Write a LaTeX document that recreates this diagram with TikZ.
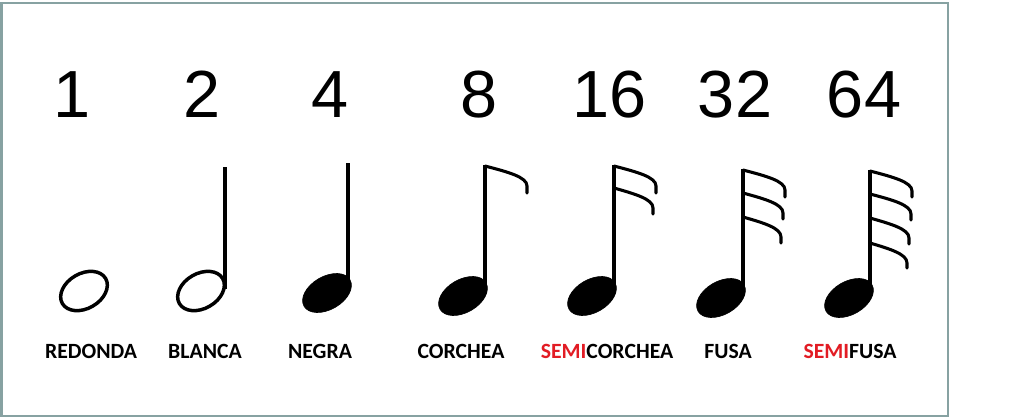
\documentclass[tikz,border=0pt]{standalone}
\usepackage{fontspec}
\setmainfont{Liberation Sans}
\newfontfamily\lblfont{Carlito}
\usepackage{tikz}

\definecolor{framecol}{RGB}{135,162,162}
\definecolor{semired}{RGB}{226,28,36}

\begin{document}
\begin{tikzpicture}[x=0.75pt,y=0.75pt,yscale=-1,xscale=1,
	openhead/.style={line width=2.6pt},
	fullhead/.style={fill=black,draw=black,line width=0.5pt},
	notestem/.style={line width=3pt},
	flagline/.style={line width=2.3pt,line cap=round},
	valnum/.style={anchor=base,inner sep=0.75pt,font=\fontsize{50}{60}\selectfont},
	notename/.style={anchor=base,inner sep=0.75pt,font=\lblfont\bfseries\fontsize{16.3}{19}\selectfont}]
			\useasboundingbox (0,0) rectangle (1024,418);
			
			%Shape: Rectangle
			\draw [draw=framecol, line width=1.5pt] (1.5,2.5) rectangle (947.5,415.5) ;
			
			%Shape: Ellipse (redonda)
			\draw [openhead, rotate around={-30:(84,291)}] (84,291) ellipse [x radius=25, y radius=17.5] ;
			%Shape: Ellipse (blanca)
			\draw [openhead, rotate around={-30:(201,291)}] (201,291) ellipse [x radius=25, y radius=17.5] ;
			%Shape: Ellipse (negra)
			\draw [fullhead, rotate around={-30:(327,293)}] (327,293) ellipse [x radius=26.5, y radius=16.5] ;
			%Shape: Ellipse (corchea)
			\draw [fullhead, rotate around={-30:(463,296)}] (463,296) ellipse [x radius=26.5, y radius=16.5] ;
			%Shape: Ellipse (semicorchea)
			\draw [fullhead, rotate around={-30:(592,296)}] (592,296) ellipse [x radius=26.5, y radius=16.5] ;
			%Shape: Ellipse (fusa)
			\draw [fullhead, rotate around={-30:(721,298)}] (721,298) ellipse [x radius=26.5, y radius=16.5] ;
			%Shape: Ellipse (semifusa)
			\draw [fullhead, rotate around={-30:(849,298)}] (849,298) ellipse [x radius=26.5, y radius=16.5] ;
			
			%Straight Lines
			\draw [notestem] (225,289) -- (225,167) ;
			%Straight Lines
			\draw [notestem] (348,290) -- (348,163) ;
			%Straight Lines
			\draw [notestem] (485,293) -- (485,165) ;
			%Straight Lines
			\draw [notestem] (614,293) -- (614,165) ;
			%Straight Lines
			\draw [notestem] (743,295) -- (743,169) ;
			%Straight Lines
			\draw [notestem] (870,295) -- (870,170) ;
			
			%Curve Lines (corchea)
			\draw [flagline] (485,166) .. controls (508,172) and (527,177) .. (527,186) -- (527,193) ;
			%Curve Lines (semicorchea)
			\draw [flagline] (614,166) .. controls (637,172) and (656,177) .. (656,186) -- (656,193) ;
			\draw [flagline] (614,188) .. controls (635,194) and (653,199) .. (653,208) -- (653,214) ;
			%Curve Lines (fusa)
			\draw [flagline] (743,170) .. controls (766,176) and (785,181) .. (785,190) -- (785,197) ;
			\draw [flagline] (743,193) .. controls (765,199) and (783,204) .. (783,213) -- (783,219) ;
			\draw [flagline] (743,217) .. controls (764,223) and (781,228) .. (781,237) -- (781,243) ;
			%Curve Lines (semifusa)
			\draw [flagline] (870,171) .. controls (893,177) and (912,182) .. (912,191) -- (912,197) ;
			\draw [flagline] (870,194) .. controls (893,200) and (911,205) .. (911,214) -- (911,220) ;
			\draw [flagline] (870,218) .. controls (891,224) and (909,229) .. (909,238) -- (909,244) ;
			\draw [flagline] (870,243) .. controls (890,249) and (907,254) .. (907,263) -- (907,268) ;
			
			% Text Node
			\node (v1) [valnum] at (72,117) {1};
			% Text Node
			\node (v2) [valnum] at (202,117) {2};
			% Text Node
			\node (v4) [valnum] at (330,117) {4};
			% Text Node
			\node (v8) [valnum] at (479,117) {8};
			% Text Node
			\node (v16) [valnum] at (610,117) {16};
			% Text Node
			\node (v32) [valnum] at (735,117) {32};
			% Text Node
			\node (v64) [valnum] at (864,117) {64};
			
			% Text Node
			\node (redonda) [notename] at (91,358) {REDONDA};
			% Text Node
			\node (blanca) [notename] at (205,358) {BLANCA};
			% Text Node
			\node (negra) [notename] at (320,358) {NEGRA};
			% Text Node
			\node (corchea) [notename] at (461,358) {CORCHEA};
			% Text Node
			\node (semicorchea) [notename] at (607,358) {{\color{semired}SEMI}CORCHEA};
			% Text Node
			\node (fusa) [notename] at (728,358) {FUSA};
			% Text Node
			\node (semifusa) [notename] at (850,358) {{\color{semired}SEMI}FUSA};
			
\end{tikzpicture}
\end{document}
